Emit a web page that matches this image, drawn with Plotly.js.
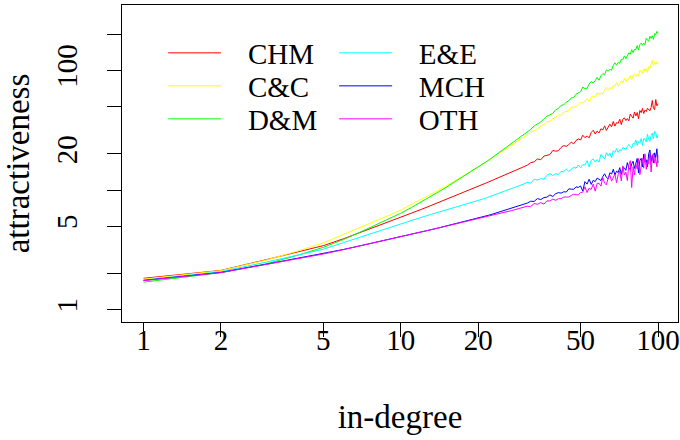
<!DOCTYPE html>
<html><head><meta charset="utf-8">
<script src="https://cdn.plot.ly/plotly-3.0.1.min.js"></script>
<style>html,body{margin:0;padding:0;background:#fff}#chart{width:680px;height:440px}</style>
</head><body><div id="chart"></div>
<script>
const seriesNames = ['CHM', 'C&C', 'D&M', 'E&E', 'MCH', 'OTH'];
const seriesColors = ['#FF0000', '#FFFF00', '#00FF00', '#00FFFF', '#0000FF', '#FF00FF'];

const inDegree = [1,2,3,4,5,6,7,8,9,10,11,12,13,14,15,16,17,18,19,20,21,22,23,24,25,26,27,28,29,30,
31,32,33,34,35,36,37,38,39,40,41,42,43,44,45,46,47,48,49,50,51,52,53,54,55,56,57,58,59,60,
61,62,63,64,65,66,67,68,69,70,71,72,73,74,75,76,77,78,79,80,81,82,83,84,85,86,87,88,89,90,
91,92,93,94,95,96,97,98,99,100];

const chm = [1.83,2.13,2.62,3.04,3.43,3.92,4.43,4.93,5.43,5.90,
6.39,6.88,7.37,7.85,8.33,8.84,9.32,9.78,10.25,10.7,
11.2,11.7,12.2,12.7,13.2,13.7,14.2,14.7,15.2,15.8,
16.1,16.9,17.2,18.2,17.9,19.2,19.6,19.8,21.4,21.1,
21.3,22.7,23.5,23.2,24.0,25.1,24.3,25.9,26.7,26.2,
28.7,27.4,28.3,27.3,30.3,31.6,29.4,31.1,30.0,32.5,
31.8,34.4,31.5,33.7,35.5,33.7,37.4,34.2,36.6,36.1,
39.0,35.2,39.1,40.1,38.1,39.5,37.9,43.1,41.5,39.8,
44.9,41.6,44.4,39.4,46.2,44.3,48.0,43.6,46.5,45.3,
48.3,47.1,45.9,49.0,56.0,48.2,46.9,57.0,50.5,52.5];

const cc = [1.80,2.12,2.60,3.10,3.62,4.25,4.90,5.50,6.15,6.80,
7.55,8.30,9.10,9.95,10.8,11.7,12.6,13.6,14.6,15.6,
16.7,17.8,19.0,20.1,21.3,22.5,23.7,25.0,26.2,27.5,
28.9,30.6,31.2,32.2,34.3,35.3,37.3,37.5,39.4,40.3,
42.3,42.1,44.6,45.7,46.2,49.1,49.0,49.6,52.2,54.1,
53.1,55.4,58.2,54.8,59.5,61.3,59.5,64.9,63.0,64.8,
63.4,69.2,71.8,68.2,71.5,69.8,74.7,73.7,78.8,73.9,
78.2,81.8,79.0,85.9,80.5,84.9,84.4,90.0,83.3,90.7,
93.3,89.1,92.5,89.2,100.6,97.3,93.8,103.2,98.6,103.4,
96.2,107.3,104.9,111.3,121,110.1,117,112,118,113];

const dm = [1.70,2.04,2.42,2.86,3.32,3.87,4.48,5.10,5.75,6.40,
7.14,7.92,8.75,9.62,10.5,11.5,12.5,13.5,14.4,15.4,
16.6,17.8,19.1,20.4,21.7,23.1,24.5,25.9,27.4,29.0,
30.8,32.1,34.3,35.7,37.0,39.3,41.5,42.5,43.8,46.8,
48.1,51.0,51.5,54.3,55.7,58.9,59.3,63.1,65.1,66.3,
72.5,70.3,70.8,77.0,80.8,78.4,82.3,87.1,82.7,90.4,
93.8,91.7,101,98.5,102,100.3,110.2,115.5,110.3,116.2,
114.5,123.4,122.8,132.1,124.8,133,140.1,136.2,149.1,140.7,
149.8,149.2,161.4,147.6,163.8,168.9,162.0,169,163.7,185.5,
180.1,174.5,192.8,184.8,194.6,181.4,203.1,199,211.7,204];

const ee = [1.76,2.08,2.50,2.87,3.20,3.64,4.06,4.47,4.89,5.27,
5.60,5.91,6.22,6.51,6.80,7.09,7.36,7.63,7.89,8.15,
8.45,8.75,9.05,9.35,9.65,9.95,10.25,10.55,10.9,11.2,
11.6,11.4,12.3,12.1,12.45,12.3,13.3,13.7,13.2,13.7,
13.5,14.3,14.2,15.0,14.3,14.95,15.5,15.2,16.2,15.4,
16.3,16.2,17.6,15.6,17.7,18.2,17.2,18.0,17.1,19.9,
19.1,18.1,20.5,19.3,20.4,18.6,21.3,20.6,22.2,20.6,
21.7,21.4,22.7,22.2,21.8,23.1,24.0,23.0,22.4,24.5,
24.1,26.2,23.6,25.4,24.6,26.9,23.6,26.9,26.6,25.3,
29.3,26.4,25.5,28.5,29.8,26.8,31.0,30.1,27.2,28.6];

const mch = [1.76,2.05,2.40,2.69,2.93,3.19,3.43,3.65,3.86,4.07,
4.27,4.46,4.64,4.82,5.00,5.17,5.33,5.49,5.65,5.80,
5.98,6.16,6.34,6.52,6.70,6.88,7.06,7.24,7.42,7.60,
7.77,8.06,8.03,8.49,8.31,8.64,8.72,9.10,8.84,9.31,
9.51,9.42,9.67,9.62,10.22,10.17,10.12,10.63,10.51,10.81,
9.81,11.77,11.2,12.31,11.14,12.04,11.76,12.58,12.3,12.0,
12.95,13.67,12.74,12.41,13.94,13.6,14.9,13.34,14.38,14.01,
15.37,13.52,15.39,15.3,14.59,16.94,15.29,14.76,16.54,17.39,
15.16,16.5,18.34,13.86,17.6,18.4,15.57,19.95,17.08,17.9,
15.57,20.11,21.62,17.3,19.46,16.91,20.44,18.62,22.12,16.86];

const oth = [1.75,2.04,2.39,2.67,2.92,3.18,3.42,3.64,3.85,4.06,
4.26,4.45,4.63,4.81,4.99,5.15,5.31,5.46,5.61,5.75,
5.90,6.04,6.18,6.32,6.46,6.60,6.74,6.88,7.02,7.17,
7.33,7.28,7.71,7.60,7.85,7.63,8.12,8.09,8.40,8.20,
8.46,8.47,8.73,8.74,8.74,9.01,9.23,9.12,9.12,9.51,
9.59,10.64,9.52,10.37,10.11,11.22,9.78,11.38,11.34,10.78,
12.73,11.40,11.06,12.56,13.29,11.86,12.6,13.62,11.54,13.45,
14.42,11.92,15.92,13.35,14.1,12.0,16.22,17.59,10.5,15.64,
13.4,16.65,14.98,18.32,13.42,16.17,18.32,15.22,20.08,14.89,
17.79,16.61,20.28,14.14,19.29,20.22,16.78,18.42,15.63,19.5];

const xTickVals = [1, 2, 5, 10, 20, 50, 100];
const xTickText = ['1', '2', '5', '10', '20', '50', '100'];
const yTickVals = [1, 2, 5, 10, 20, 50, 100, 200];
const yTickText = ['1', '', '5', '', '20', '', '100', ''];

const seriesValues = [chm, cc, dm, ee, mch, oth];
const legendIds = ['legend', 'legend2', 'legend3', 'legend4', 'legend5', 'legend6'];
const legendX = [0.074, 0.074, 0.074, 0.3815, 0.3815, 0.3815];
const legendY = [0.92902, 0.82492, 0.72082, 0.92902, 0.82492, 0.72082];
const pad = '\u00a0\u00a0\u00a0';

const FONT = 'Liberation Serif, Times New Roman, serif';
const traces = seriesValues.map((vals, i) => ({
  type: 'scatter', mode: 'lines',
  x: inDegree, y: vals,
  name: pad + seriesNames[i],
  legend: legendIds[i],
  line: {color: seriesColors[i], width: 1}
}));

const layout = {
  width: 680, height: 440,
  margin: {l: 122, r: 2, t: 5, b: 118},
  paper_bgcolor: '#ffffff', plot_bgcolor: '#ffffff',
  font: {family: FONT, size: 29, color: '#000000'},
  showlegend: true,
  xaxis: {
    type: 'log', range: [-0.0836, 2.0777],
    tickmode: 'array', tickvals: xTickVals, ticktext: xTickText,
    ticks: 'outside', ticklen: 14, tickwidth: 1, tickcolor: '#000',
    showline: true, linecolor: '#000', linewidth: 1, mirror: true,
    showgrid: false, zeroline: false, automargin: false,
    ticklabelstandoff: -22,
    tickfont: {family: FONT, size: 29, color: '#000'},
    title: {text: 'in-degree', font: {family: FONT, size: 33, color: '#000'}, standoff: 50}
  },
  yaxis: {
    type: 'log', range: [-0.1028, 2.546],
    tickmode: 'array', tickvals: yTickVals, ticktext: yTickText,
    ticks: 'outside', ticklen: 14, tickwidth: 1, tickcolor: '#000', tickangle: -90,
    showline: true, linecolor: '#000', linewidth: 1, mirror: true,
    showgrid: false, zeroline: false, automargin: false,
    ticklabelstandoff: 18,
    tickfont: {family: FONT, size: 29, color: '#000'},
    title: {text: 'attractiveness', font: {family: FONT, size: 33, color: '#000'}, standoff: 12}
  },
  hovermode: false
};
legendIds.forEach((id, i) => {
  layout[id] = {
    x: legendX[i], y: legendY[i], xanchor: 'left', yanchor: 'top',
    orientation: 'v', itemwidth: 53, bgcolor: 'rgba(0,0,0,0)',
    font: {family: FONT, size: 29, color: '#000'}
  };
});

Plotly.newPlot('chart', traces, layout, {displayModeBar: false, staticPlot: true});
</script>
</body></html>
